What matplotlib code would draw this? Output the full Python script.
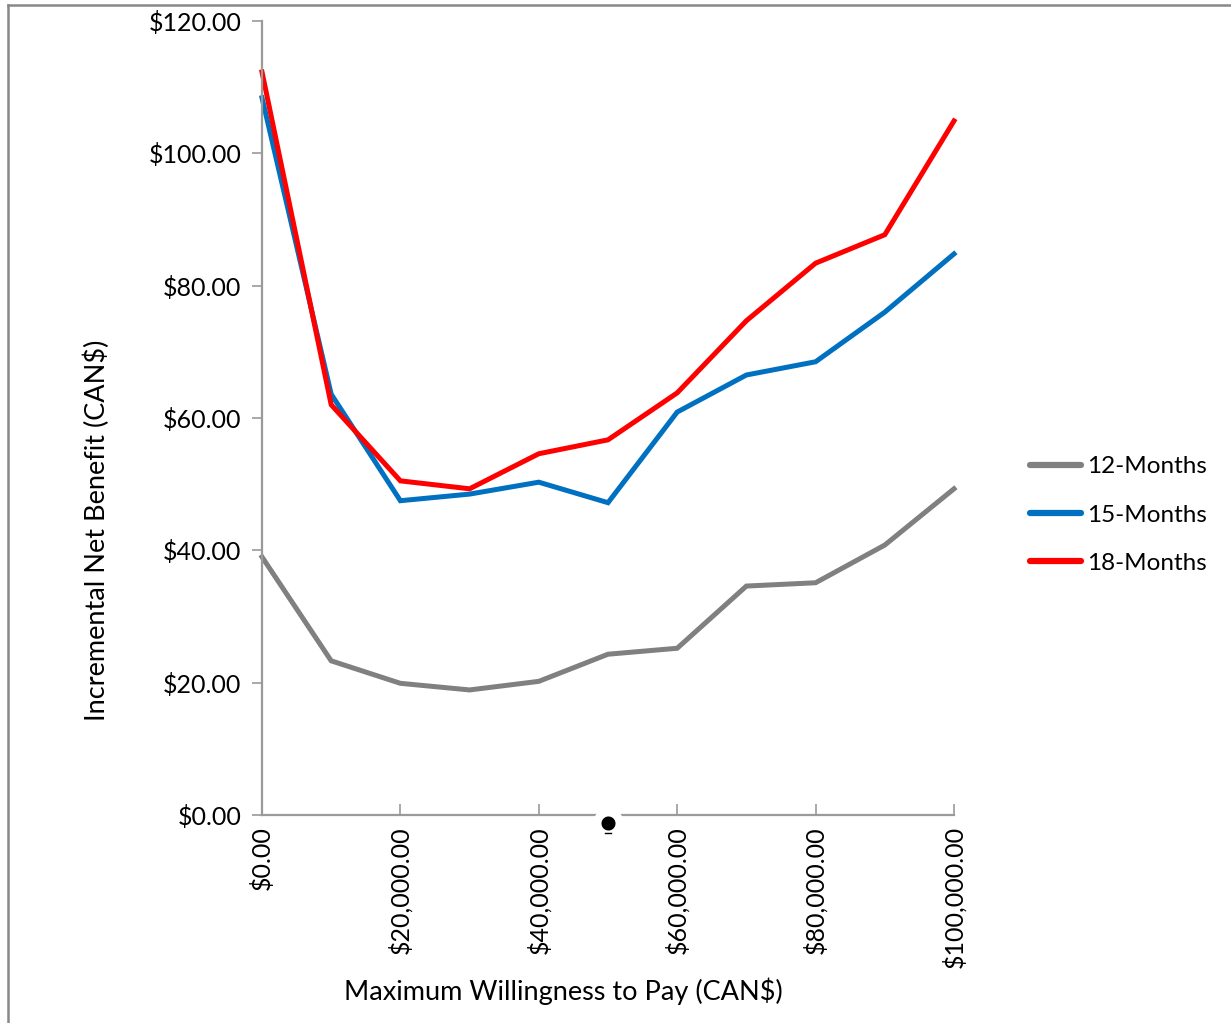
import matplotlib
matplotlib.use("Agg")
import matplotlib.pyplot as plt
from matplotlib.lines import Line2D
from matplotlib.ticker import FuncFormatter, MultipleLocator

# Willingness-to-pay thresholds (CAN$) and incremental net benefit per scenario
wtp = [0, 10000, 20000, 30000, 40000, 50000, 60000, 70000, 80000, 90000, 100000]
inb_12 = [39.0, 23.3, 19.9, 18.9, 20.2, 24.3, 25.2, 34.6, 35.1, 40.8, 49.3]
inb_15 = [108.4, 63.6, 47.5, 48.5, 50.3, 47.2, 60.9, 66.5, 68.5, 76.0, 84.8]
inb_18 = [112.3, 62.0, 50.5, 49.3, 54.6, 56.7, 63.8, 74.7, 83.4, 87.7, 104.9]
series_labels = ["12-Months", "15-Months", "18-Months"]
series_colors = ["#808080", "#0070C0", "#FF0000"]

plt.rcParams["font.family"] = ["Lato", "DejaVu Sans"]

fig = plt.figure(figsize=(12.31, 10.23), dpi=100)
ax = fig.add_axes([262 / 1231, 1 - 815 / 1023, (954 - 262) / 1231, (815 - 21) / 1023])

for vals, lab, col in zip([inb_12, inb_15, inb_18], series_labels, series_colors):
    ax.plot(wtp, vals, color=col, lw=3.6, label=lab, solid_joinstyle="miter", clip_on=False)

ax.set_xlim(0, 100000)
ax.set_ylim(0, 120)
ax.xaxis.set_major_locator(MultipleLocator(20000))
ax.yaxis.set_major_locator(MultipleLocator(20))
ax.xaxis.set_major_formatter(FuncFormatter(lambda v, p: f"${v:,.2f}"))
ax.yaxis.set_major_formatter(FuncFormatter(lambda v, p: f"${v:,.2f}"))

axis_gray = "#9a9a9a"
for side in ["top", "right"]:
    ax.spines[side].set_visible(False)
for side in ["left", "bottom"]:
    ax.spines[side].set_color(axis_gray)
    ax.spines[side].set_linewidth(1.6)

ax.tick_params(axis="y", direction="out", length=7, width=1.2, color=axis_gray,
               labelsize=18, pad=8)
ax.tick_params(axis="x", direction="in", length=8, width=1.2, color=axis_gray,
               labelsize=18, pad=8)
for t in ax.get_xticklabels():
    t.set_rotation(90)
    t.set_va("top")
    t.set_ha("center")

ax.set_ylabel("Incremental Net Benefit (CAN$)", fontsize=19.5)
ax.set_xlabel("Maximum Willingness to Pay (CAN$)", fontsize=19.5)
ax.yaxis.set_label_coords(-0.219, 0.359)
ax.xaxis.set_label_coords(0.435, -0.205)

# Marker sitting on the axis at the $50,000 threshold
ax.scatter([50000], [-1.2], s=260, color="black", edgecolor="white", linewidth=6,
           zorder=5, clip_on=False)
ax.plot([49500, 50500], [-2.7, -2.7], color="black", lw=1, clip_on=False, zorder=6)

handles = [Line2D([0], [0], color=c, lw=4.5, solid_capstyle="round") for c in series_colors]
fig.legend(handles, series_labels, loc="center left",
           bbox_to_anchor=(1030 / 1231, 1 - 515 / 1023), frameon=False,
           fontsize=17.5, handlelength=2.1, handletextpad=0.25, labelspacing=1.12,
           borderaxespad=0, borderpad=0)

# Outer frame on the left and top edges
fig.add_artist(Line2D([8 / 1231, 8 / 1231], [0, 1 - 5 / 1023], transform=fig.transFigure,
                      color="#888888", lw=1.8))
fig.add_artist(Line2D([8 / 1231, 1], [1 - 5 / 1023, 1 - 5 / 1023], transform=fig.transFigure,
                      color="#888888", lw=1.8))

fig.savefig("out.png", dpi=100, facecolor="white")
